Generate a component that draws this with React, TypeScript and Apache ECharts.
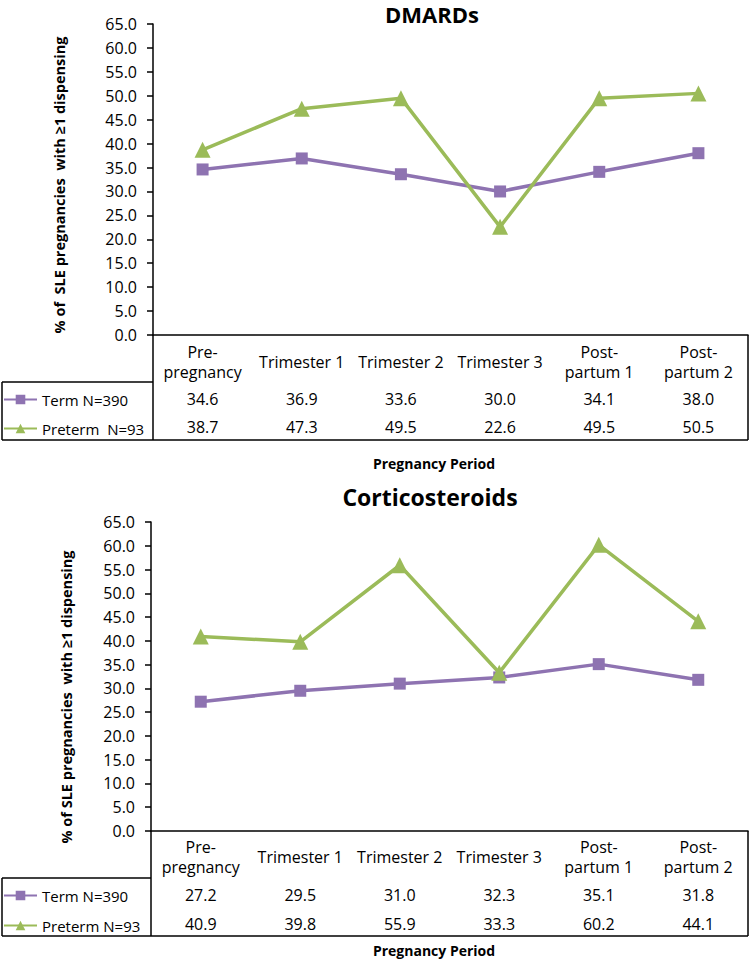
import React, { useEffect, useRef } from "react";
import * as echarts from "echarts";

const categories = ["Pre-\npregnancy", "Trimester 1", "Trimester 2", "Trimester 3", "Post-\npartum 1", "Post-\npartum 2"];
const dmardsTerm = [34.6, 36.9, 33.6, 30.0, 34.1, 38.0];
const dmardsPreterm = [38.7, 47.3, 49.5, 22.6, 49.5, 50.5];
const corticoTerm = [27.2, 29.5, 31.0, 32.3, 35.1, 31.8];
const corticoPreterm = [40.9, 39.8, 55.9, 33.3, 60.2, 44.1];
const yMin = 0;
const yMax = 65;
const yStep = 5;

const termNameTop = "Term N=390";
const pretermNameTop = "Preterm  N=93";
const termNameBottom = "Term N=390";
const pretermNameBottom = "Preterm N=93";
const yNameTop = "% of  SLE pregnancies  with \u22651 dispensing";
const yNameBottom = "% of SLE pregnancies  with \u22651 dispensing";

const PURPLE = "#8E73B1";
const GREEN = "#9BBB59";
const FONT = "'Open Sans', 'Noto Sans', sans-serif";

function xAxesFor(grid: number, mCat: number, mTerm: number, mPre: number, term: number[], pre: number[]) {
  const base = {
    type: "category",
    gridIndex: grid,
    data: categories,
    position: "bottom",
    boundaryGap: true,
    axisTick: { show: false },
    splitLine: { show: false },
  };
  const lbl = { interval: 0, verticalAlign: "middle", fontSize: 16, fontFamily: FONT, color: "#000" };
  return [
    {
      ...base,
      axisLine: { show: true, lineStyle: { color: "#000", width: 1.5 } },
      axisLabel: { ...lbl, margin: mCat, lineHeight: 20 },
    },
    {
      ...base,
      axisLine: { show: false },
      axisLabel: { ...lbl, margin: mTerm, formatter: (_v: string, i: number) => term[i].toFixed(1) },
    },
    {
      ...base,
      axisLine: { show: false },
      axisLabel: { ...lbl, margin: mPre, formatter: (_v: string, i: number) => pre[i].toFixed(1) },
    },
  ];
}

function yAxisFor(grid: number, margin: number) {
  return {
    type: "value",
    gridIndex: grid,
    min: yMin,
    max: yMax,
    interval: yStep,
    axisLine: { show: true, lineStyle: { color: "#000", width: 1.5 } },
    axisTick: { show: true, inside: false, length: 6, lineStyle: { color: "#000", width: 1.5 } },
    splitLine: { show: false },
    axisLabel: {
      margin,
      fontSize: 16,
      fontFamily: FONT,
      color: "#000",
      formatter: (v: number) => v.toFixed(1),
    },
  };
}

function lineSeries(name: string, data: number[], xi: number, yi: number, color: string, symbol: string, size: number) {
  return {
    name,
    type: "line",
    xAxisIndex: xi,
    yAxisIndex: yi,
    data,
    symbol,
    symbolSize: size,
    showSymbol: true,
    lineStyle: { color, width: 3.5 },
    itemStyle: { color },
    emphasis: { disabled: true },
  };
}

function ln(x1: number, y1: number, x2: number, y2: number) {
  return {
    type: "line",
    shape: { x1, y1, x2, y2 },
    style: { stroke: "#000", lineWidth: 1.5 },
    silent: true,
  };
}

function txt(x: number, y: number, text: string, size: number, rotation = 0, lineHeight?: number) {
  return {
    type: "text",
    x,
    y,
    rotation,
    style: {
      text,
      fontSize: size,
      fontWeight: "bold",
      fontFamily: FONT,
      fill: "#000",
      align: "center",
      verticalAlign: "middle",
      ...(lineHeight ? { lineHeight } : {}),
    },
    silent: true,
  };
}

export default function App() {
  const ref = useRef<HTMLDivElement>(null);
  useEffect(() => {
    if (!ref.current) return;
    const chart = echarts.init(ref.current, undefined, { renderer: "svg" });
    const legendText = { fontSize: 15, fontFamily: FONT, color: "#000" };
    const legendBase = {
      orient: "vertical",
      left: 3,
      padding: 0,
      itemWidth: 33,
      itemHeight: 12,
      selectedMode: false,
      textStyle: legendText,
      lineStyle: { width: 2 },
    };
    chart.setOption({
      animation: false,
      backgroundColor: "#fff",
      grid: [
        { left: 153, top: 24, width: 595, height: 311 },
        { left: 151, top: 522, width: 597, height: 309 },
      ],
      xAxis: [
        ...xAxesFor(0, 27, 64, 92, dmardsTerm, dmardsPreterm),
        ...xAxesFor(1, 26, 64, 93, corticoTerm, corticoPreterm),
      ],
      yAxis: [yAxisFor(0, 16), yAxisFor(1, 16)],
      legend: [
        { ...legendBase, top: 392, itemGap: 14, data: [termNameTop, pretermNameTop] },
        { ...legendBase, top: 888, itemGap: 15, data: [termNameBottom, pretermNameBottom] },
      ],
      series: [
        lineSeries(termNameTop, dmardsTerm, 0, 0, PURPLE, "rect", 12),
        lineSeries(pretermNameTop, dmardsPreterm, 0, 0, GREEN, "triangle", 16),
        lineSeries(termNameBottom, corticoTerm, 3, 1, PURPLE, "rect", 12),
        lineSeries(pretermNameBottom, corticoPreterm, 3, 1, GREEN, "triangle", 16),
      ],
      graphic: [
        txt(432, 14, "DMARDs", 22, 0, 22),
        txt(430, 497, "Corticosteroids", 23),
        txt(434, 463, "Pregnancy Period", 14),
        txt(434, 950, "Pregnancy Period", 14),
        txt(59, 185, yNameTop, 14.5, Math.PI / 2),
        txt(66, 697, yNameBottom, 14.5, Math.PI / 2),
        // top table borders
        ln(2, 382, 153, 382),
        ln(2, 382, 2, 440),
        ln(2, 440, 748, 440),
        ln(748, 335, 748, 440),
        ln(153, 335, 153, 440),
        // bottom table borders
        ln(2, 878, 151, 878),
        ln(2, 878, 2, 936),
        ln(2, 936, 748, 936),
        ln(748, 831, 748, 936),
        ln(151, 831, 151, 936),
      ],
    });
    return () => chart.dispose();
  }, []);
  return <div ref={ref} style={{ position: "absolute", left: 0, top: 0, width: 752, height: 959 }} />;
}
